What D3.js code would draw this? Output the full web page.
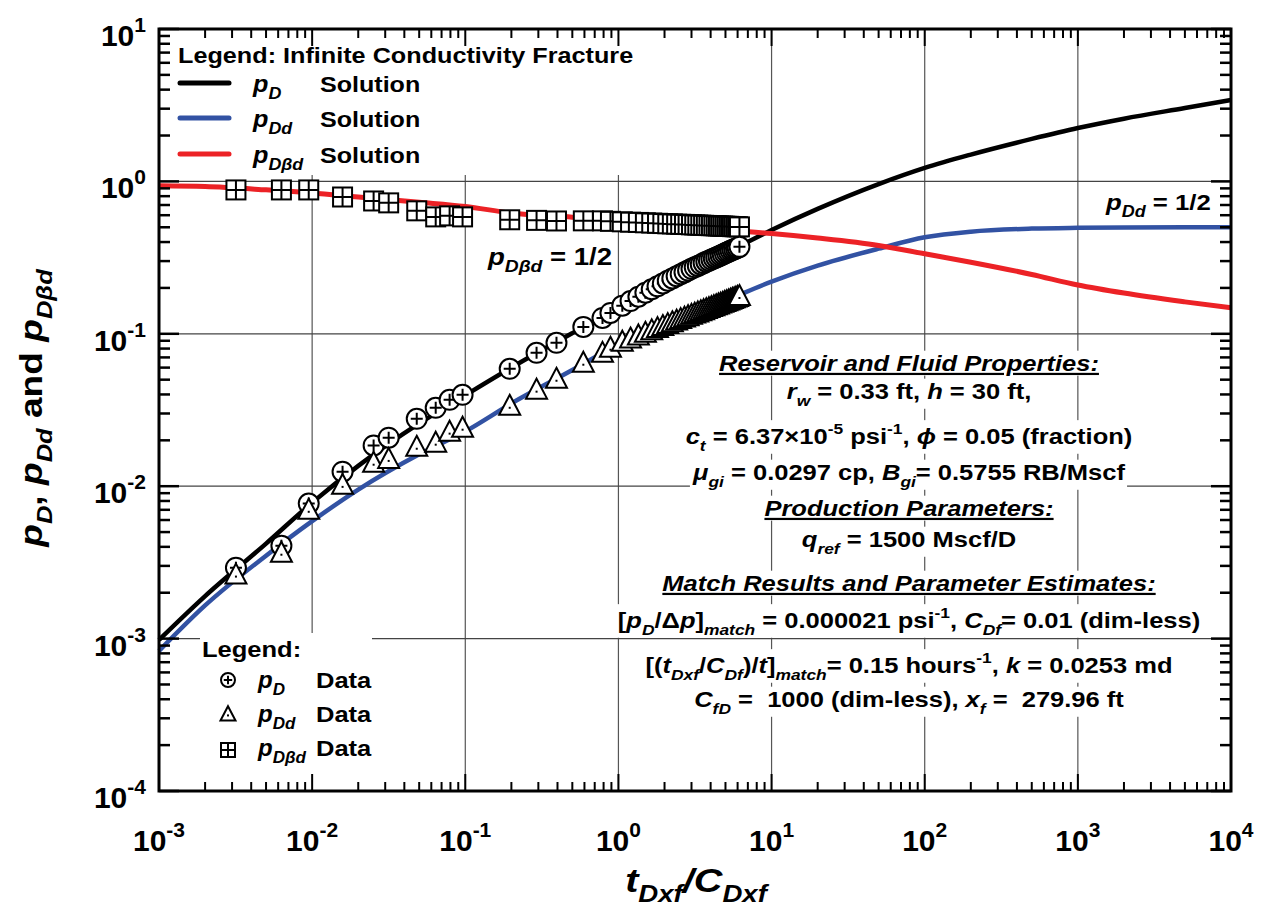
<!DOCTYPE html>
<html>
<head>
<meta charset="utf-8">
<script src="https://cdn.jsdelivr.net/npm/d3@7"></script>
<style>
  body { margin: 0; background: #fff; }
  text { font-family: "Liberation Sans", Arial, Helvetica, sans-serif; font-weight: bold; white-space: pre; }
</style>
</head>
<body>
<svg id="chart" width="1261" height="909"></svg>
<script>
// ---- Solution curves (type curves), sampled in t_Dxf/C_Dxf ----
const solT      = [0.001, 0.002, 0.005, 0.01, 0.02, 0.05, 0.1, 0.2, 0.5, 1, 2, 5, 10, 20, 50, 100, 200, 500, 1000, 2000, 5000, 10000];
const solPD     = [0.00098, 0.0019, 0.0042, 0.0078, 0.0136, 0.0258, 0.0395, 0.060, 0.101, 0.148, 0.218, 0.338, 0.48, 0.66, 0.96, 1.226, 1.5, 1.9, 2.24, 2.58, 3.03, 3.42];
const solPDd    = [0.00083, 0.00165, 0.0035, 0.0059, 0.0095, 0.0162, 0.0229, 0.0349, 0.0578, 0.085, 0.115, 0.165, 0.22, 0.28, 0.362, 0.43, 0.468, 0.49, 0.496, 0.499, 0.50, 0.50];
const solPDbd   = [0.935, 0.925, 0.88, 0.84, 0.79, 0.73, 0.685, 0.62, 0.582, 0.55, 0.52, 0.48, 0.455, 0.425, 0.38, 0.335, 0.295, 0.245, 0.209, 0.185, 0.162, 0.148];

// ---- Field data (matched), shared time axis ----
const dataT = [0.00318, 0.0063, 0.0095, 0.0158, 0.0252, 0.0316, 0.0482, 0.0641, 0.079, 0.096,
  0.195, 0.292, 0.394, 0.59, 0.787, 0.887, 1.06, 1.2, 1.35, 1.5, 1.65, 1.8, 1.95, 2.1, 2.25, 2.4,
  2.55, 2.7, 2.85, 3.0, 3.15, 3.3, 3.45, 3.6, 3.75, 3.9, 4.05, 4.2, 4.35, 4.5, 4.65, 4.8, 4.95,
  5.1, 5.25, 5.4, 5.55, 5.7, 5.85, 6.0, 6.17];
const dataPD = [0.00292, 0.00407, 0.0077, 0.01245, 0.0185, 0.0208, 0.0277, 0.0327, 0.0369, 0.0398,
  0.0589, 0.075, 0.0873, 0.111, 0.127, 0.137, 0.153, 0.164, 0.175, 0.186, 0.196, 0.205, 0.214, 0.223, 0.231, 0.239,
  0.246, 0.253, 0.260, 0.267, 0.273, 0.279, 0.285, 0.291, 0.297, 0.302, 0.307, 0.312, 0.317, 0.322, 0.327, 0.332, 0.337,
  0.342, 0.346, 0.351, 0.355, 0.359, 0.363, 0.367, 0.372];
const dataPDd = [0.00263, 0.00366, 0.0070, 0.0102, 0.01426, 0.0151, 0.01815, 0.0193, 0.0228, 0.0242,
  0.0337, 0.043, 0.0507, 0.0646, 0.075, 0.081, 0.0887, 0.0931, 0.0975, 0.1016, 0.1054, 0.1090, 0.1125, 0.1158, 0.1190, 0.1220,
  0.1249, 0.1277, 0.1305, 0.1331, 0.1356, 0.1381, 0.1406, 0.1429, 0.1452, 0.1474, 0.1496, 0.1518, 0.1538, 0.1559, 0.1579, 0.1598, 0.1618,
  0.1637, 0.1655, 0.1674, 0.1692, 0.1709, 0.1727, 0.1744, 0.177];
const dataPDbd = [0.879, 0.879, 0.879, 0.79, 0.744, 0.723, 0.641, 0.585, 0.594, 0.585,
  0.56, 0.555, 0.55, 0.551, 0.551, 0.547, 0.543, 0.540, 0.538, 0.535, 0.533, 0.531, 0.529, 0.527, 0.526, 0.524,
  0.523, 0.522, 0.521, 0.519, 0.518, 0.517, 0.516, 0.515, 0.514, 0.513, 0.5125, 0.512, 0.511, 0.510, 0.509, 0.509, 0.508,
  0.507, 0.507, 0.506, 0.505, 0.505, 0.504, 0.504, 0.503];

// ---- Axis decades ----
const xDecades = [-3, -2, -1, 0, 1, 2, 3, 4];
const yDecades = [-4, -3, -2, -1, 0, 1];

// ---- Colours ----
const COL_PD = "#000000", COL_PDD = "#3252a3", COL_PDBD = "#ec2226";

const svg = d3.select("#chart");
const P = { left: 159, right: 1231, top: 29, bottom: 791 };
const x = d3.scaleLog().domain([1e-3, 1e4]).range([P.left, P.right]);
const y = d3.scaleLog().domain([1e-4, 1e1]).range([P.bottom, P.top]);
const SX = 1.16; // horizontal widening of the label face

// rich text: segments are [string, flags]; flags: i=italic, s=subscript, u=superscript
function rich(g, px, py, segs, size, anchor, sx = 1) {
  const holder = g.append("g").attr("transform", `translate(${px},${py}) scale(${sx},1)`);
  const t = holder.append("text").attr("x", 0).attr("y", 0)
    .attr("font-size", size).attr("text-anchor", anchor || "start");
  let cur = 0;
  for (const [str, f = ""] of segs) {
    const sub = f.includes("s"), sup = f.includes("u");
    const target = sub ? Math.round(size * 0.3) : sup ? -Math.round(size * 0.45) : 0;
    const ts = t.append("tspan").text(str).attr("dy", target - cur);
    cur = target;
    if (sub || sup) ts.attr("font-size", Math.round(size * 0.7));
    if (f.includes("i")) ts.attr("font-style", "italic");
  }
  return { t, px, py, sx };
}

const gGrid = svg.append("g");
const gBg = svg.append("g");
const gCurves = svg.append("g");
const gMarks = svg.append("g");
const gAxes = svg.append("g");
const gText = svg.append("g");

// grid at decades
xDecades.slice(1, -1).forEach(d => {
  gGrid.append("line").attr("x1", x(10 ** d)).attr("x2", x(10 ** d))
    .attr("y1", P.top).attr("y2", P.bottom).attr("stroke", "#555").attr("stroke-width", 1.2);
});
yDecades.slice(1, -1).forEach(d => {
  gGrid.append("line").attr("y1", y(10 ** d)).attr("y2", y(10 ** d))
    .attr("x1", P.left).attr("x2", P.right).attr("stroke", "#444").attr("stroke-width", 1.2);
});

// legend boxes (white, over the grid)
gBg.append("rect").attr("x", P.left).attr("y", P.top).attr("width", 482).attr("height", 146).attr("fill", "#fff");
gBg.append("rect").attr("x", 200).attr("y", 633).attr("width", 172).attr("height", 156).attr("fill", "#fff");

// solution curves
const line = d3.line().x(d => x(d[0])).y(d => y(d[1])).curve(d3.curveMonotoneX);
function curve(vals, col, w) {
  gCurves.append("path").datum(solT.map((t, i) => [t, vals[i]]))
    .attr("d", line).attr("fill", "none").attr("stroke", col).attr("stroke-width", w)
    .attr("stroke-linejoin", "round");
}
curve(solPDd, COL_PDD, 4.5);
curve(solPD, COL_PD, 4.5);
curve(solPDbd, COL_PDBD, 5);

// marker glyphs
function circlePlus(g, cx, cy, r) {
  const m = g.append("g").attr("transform", `translate(${cx},${cy})`);
  m.append("circle").attr("r", r).attr("fill", "#fff").attr("stroke", "#000").attr("stroke-width", 2);
  const a = r * 0.6;
  m.append("path").attr("d", `M${-a},0H${a}M0,${-a}V${a}`).attr("stroke", "#000").attr("stroke-width", 2);
}
function triDot(g, cx, cy, s) {
  const m = g.append("g").attr("transform", `translate(${cx},${cy})`);
  const h = s * 0.95;
  m.append("path").attr("d", `M0,${-h * 0.55}L${s / 2},${h * 0.45}L${-s / 2},${h * 0.45}Z`)
    .attr("fill", "#fff").attr("stroke", "#000").attr("stroke-width", 2).attr("stroke-linejoin", "miter");
  m.append("rect").attr("x", -1).attr("y", h * 0.1 - 1).attr("width", 2).attr("height", 2).attr("fill", "#000");
}
function squareGrid(g, cx, cy, s) {
  const m = g.append("g").attr("transform", `translate(${cx},${cy})`);
  m.append("rect").attr("x", -s / 2).attr("y", -s / 2).attr("width", s).attr("height", s)
    .attr("fill", "#fff").attr("stroke", "#000").attr("stroke-width", 2);
  m.append("path").attr("d", `M${-s / 2},0H${s / 2}M0,${-s / 2}V${s / 2}`).attr("stroke", "#000").attr("stroke-width", 2);
}

dataT.forEach((t, i) => squareGrid(gMarks, x(t), y(dataPDbd[i]), 19));
dataT.forEach((t, i) => circlePlus(gMarks, x(t), y(dataPD[i]), 10));
dataT.forEach((t, i) => triDot(gMarks, x(t), y(dataPDd[i]), 21));

// axes frame and inward ticks
gAxes.append("rect").attr("x", P.left).attr("y", P.top).attr("width", P.right - P.left)
  .attr("height", P.bottom - P.top).attr("fill", "none").attr("stroke", "#000").attr("stroke-width", 3);
const xMinor = [], yMinor = [];
xDecades.slice(0, -1).forEach(d => { for (let k = 2; k <= 9; k++) xMinor.push(k * 10 ** d); });
yDecades.slice(0, -1).forEach(d => { for (let k = 2; k <= 9; k++) yMinor.push(k * 10 ** d); });
function tick(x1, y1, x2, y2, w) {
  gAxes.append("line").attr("x1", x1).attr("y1", y1).attr("x2", x2).attr("y2", y2)
    .attr("stroke", "#000").attr("stroke-width", w);
}
xDecades.forEach(d => { const px = x(10 ** d); tick(px, P.bottom, px, P.bottom - 17, 2); tick(px, P.top, px, P.top + 17, 2); });
xMinor.forEach(v => { const px = x(v); tick(px, P.bottom, px, P.bottom - 9, 2); tick(px, P.top, px, P.top + 9, 2); });
yDecades.forEach(d => { const py = y(10 ** d); tick(P.left, py, P.left + 20, py, 2.5); tick(P.right, py, P.right - 20, py, 2.5); });
yMinor.forEach(v => { const py = y(v); tick(P.left, py, P.left + 11, py, 2.5); tick(P.right, py, P.right - 11, py, 2.5); });

// tick labels
xDecades.forEach(d => rich(gText, x(10 ** d), 851, [["10"], [String(d), "u"]], 30, "middle"));
yDecades.forEach(d => rich(gText, 146, y(10 ** d) + 17, [["10"], [String(d), "u"]], 30, "end"));

// axis titles
rich(gText, 696, 892, [["t", "i"], ["Dxf", "is"], ["/", "i"], ["C", "i"], ["Dxf", "is"]], 33, "middle", 1.2);
const yt = gText.append("g").attr("transform", "translate(42,408) rotate(-90)");
rich(yt, 0, 0, [["p", "i"], ["D", "is"], [", "], ["p", "i"], ["Dd", "is"], [" and "], ["p", "i"], ["Dβd", "is"]], 32, "middle", SX);

// top legend: solutions
rich(gText, 178, 63, [["Legend: Infinite Conductivity Fracture"]], 22, "start", 1.146);
const solLegend = [
  { col: COL_PD, sub: "D", ly: 83 },
  { col: COL_PDD, sub: "Dd", ly: 118 },
  { col: COL_PDBD, sub: "Dβd", ly: 154 }
];
solLegend.forEach(e => {
  gText.append("line").attr("x1", 180).attr("x2", 229).attr("y1", e.ly).attr("y2", e.ly)
    .attr("stroke", e.col).attr("stroke-width", 5).attr("stroke-linecap", "round");
  rich(gText, 253, e.ly + 9, [["p", "i"], [e.sub, "is"]], 24, "start", 1.05);
  rich(gText, 320, e.ly + 9, [["Solution"]], 22, "start", 1.14);
});

// bottom legend: data
rich(gText, 202, 657, [["Legend:"]], 22, "start", SX);
circlePlus(gText, 228, 680, 7);
triDot(gText, 228, 714, 15);
squareGrid(gText, 228, 750, 14);
[["D", 688], ["Dd", 722], ["Dβd", 756]].forEach(([s, by]) => {
  rich(gText, 258, by, [["p", "i"], [s, "is"]], 24, "start", 1.0);
  rich(gText, 316, by, [["Data"]], 22, "start", SX);
});

// asymptote labels
rich(gText, 488, 265, [["p", "i"], ["Dβd", "is"], [" = 1/2"]], 23, "start", 1.2);
rich(gText, 1106, 210, [["p", "i"], ["Dd", "is"], [" = 1/2"]], 23, "start", 1.12);

// parameter block
const cx = 909;
const block = [
  { by: 371, u: true, segs: [["Reservoir and Fluid Properties:", "i"]] },
  { by: 399, segs: [["r", "i"], ["w", "is"], [" = 0.33 ft, "], ["h", "i"], [" = 30 ft,"]] },
  { by: 444, segs: [["c", "i"], ["t", "is"], [" = 6.37×10"], ["-5", "u"], [" psi"], ["-1", "u"], [", "], ["ϕ", "i"], [" = 0.05 (fraction)"]] },
  { by: 480, segs: [["μ", "i"], ["gi", "is"], [" = 0.0297 cp, "], ["B", "i"], ["gi", "is"], ["= 0.5755 RB/Mscf"]] },
  { by: 516, u: true, segs: [["Production Parameters:", "i"]] },
  { by: 547, segs: [["q", "i"], ["ref", "is"], [" = 1500 Mscf/D"]] },
  { by: 591, u: true, segs: [["Match Results and Parameter Estimates:", "i"]] },
  { by: 628, segs: [["["], ["p", "i"], ["D", "is"], ["/Δ"], ["p", "i"], ["]"], ["match", "is"], [" = 0.000021 psi"], ["-1", "u"], [", "], ["C", "i"], ["Df", "is"], ["= 0.01 (dim-less)"]] },
  { by: 673, segs: [["[("], ["t", "i"], ["Dxf", "is"], ["/"], ["C", "i"], ["Df", "is"], [")/"], ["t", "i"], ["]"], ["match", "is"], ["= 0.15 hours"], ["-1", "u"], [", "], ["k", "i"], [" = 0.0253 md"]] },
  { by: 707, segs: [["C", "i"], ["fD", "is"], [" =  1000 (dim-less), "], ["x", "i"], ["f", "is"], [" =  279.96 ft"]] }
];
block.forEach(b => {
  const r = rich(gText, cx, b.by, b.segs, 22, "middle", SX);
  if (b.u) r.t.attr("text-decoration", "underline");
  const bb = r.t.node().getBBox();
  gBg.append("rect").attr("x", r.px + bb.x * r.sx - 2).attr("y", r.py + bb.y)
    .attr("width", bb.width * r.sx + 4).attr("height", bb.height).attr("fill", "#fff");
});
</script>
</body>
</html>
